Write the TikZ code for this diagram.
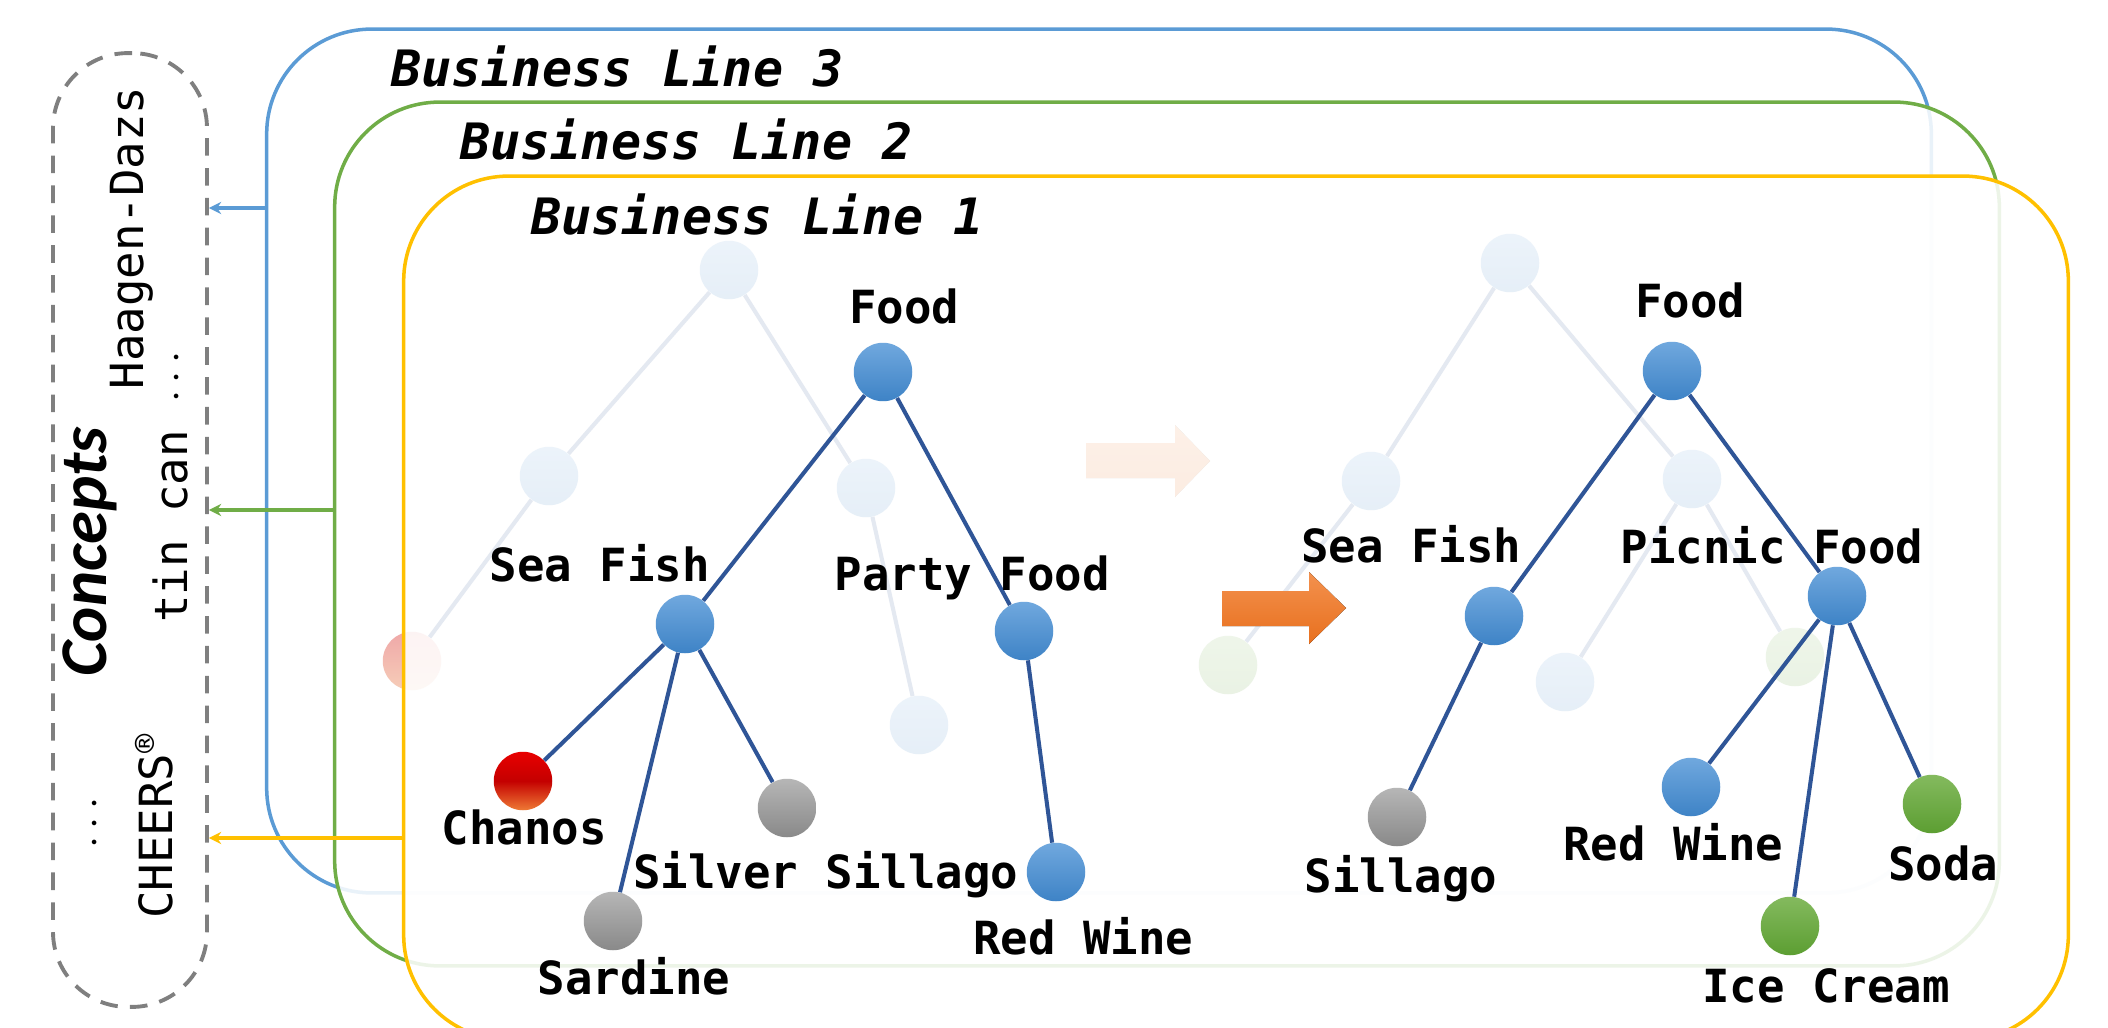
\documentclass[tikz,border=0pt]{standalone}
\usepackage{fontspec}
\setmonofont{DejaVu Sans Mono}[
    BoldFont={DejaVu Sans Mono Bold},
    ItalicFont={DejaVu Sans Mono Oblique},
    BoldItalicFont={DejaVu Sans Mono Bold Oblique}]
\newfontfamily\conceptfont{Carlito}
\usepackage{xcolor}
\usepackage{tikz}
\usetikzlibrary{positioning, arrows.meta, shadings}
\definecolor{lineblue}{HTML}{5B9BD5}
\definecolor{linegreen}{HTML}{70AD47}
\definecolor{lineyellow}{HTML}{FFC000}
\definecolor{linegrey}{HTML}{7F7F7F}
\definecolor{branchblue}{HTML}{2F5597}
\definecolor{dotblueA}{HTML}{70A8DE}
\definecolor{dotblueB}{HTML}{3E83C6}
\definecolor{dotgreyA}{HTML}{B6B6B6}
\definecolor{dotgreyB}{HTML}{898989}
\definecolor{dotredA}{HTML}{E80000}
\definecolor{dotredM}{HTML}{C40000}
\definecolor{dotredB}{HTML}{EE7A35}
\definecolor{dotgreenA}{HTML}{84BA5E}
\definecolor{dotgreenB}{HTML}{5C9E32}
\definecolor{dotpinkA}{HTML}{EFA8A8}
\definecolor{dotpinkB}{HTML}{F6CDB8}
\definecolor{pushA}{HTML}{F3914E}
\definecolor{pushB}{HTML}{E8701E}

\begin{document}
\begin{tikzpicture}[
        x=0.02cm, y=-0.02cm,
        box/.style={
            rectangle,
            draw,
            line width=2pt,
            rounded corners=2.1cm,
            minimum width=33.3cm,
            minimum height=17.28cm,
            inner sep=0pt
        },
        veil/.style={fill=white, fill opacity=0.87},
        boxname/.style={
            font=\ttfamily\bfseries\itshape\fontsize{28.5}{32}\selectfont,
            inner sep=0pt,
            anchor=base west
        },
        term/.style={
            font=\ttfamily\bfseries\fontsize{26}{30}\selectfont,
            inner sep=0pt,
            anchor=base
        },
        concept/.style={
            font=\ttfamily\fontsize{26}{30}\selectfont,
            inner sep=0pt,
            anchor=base,
            rotate=90
        },
        feed/.style={
            -{Stealth[length=7pt, width=7pt]},
            line width=2pt
        },
        dot/.style={circle, inner sep=0pt, minimum size=1.17cm},
        bluedot/.style={dot, top color=dotblueA, bottom color=dotblueB},
        greydot/.style={dot, top color=dotgreyA, bottom color=dotgreyB},
        reddot/.style={dot, top color=dotredA, bottom color=dotredB, middle color=dotredM},
        greendot/.style={dot, top color=dotgreenA, bottom color=dotgreenB},
        pinkdot/.style={dot, top color=dotpinkA, bottom color=dotpinkB},
        branch/.style={draw=branchblue, line width=2.3pt},
        push/.style={top color=pushA, bottom color=pushB}
    ]
    \useasboundingbox (0,0) rectangle (2108,1027);

    % business lines, back to front
    \node[box, draw=lineblue] (bl3) at (1099,461) {};
    \node[box, draw=linegreen, veil] (bl2) at (1167,534) {};

    % older trees, seen through the front box
    \node[bluedot] (oldroot) at (729,270) {};
    \node[bluedot] (oldleft) at (549,476) {};
    \node[bluedot] (oldright) at (866,488) {};
    \node[pinkdot] (oldpink) at (412,661) {};
    \node[bluedot] (oldlow) at (919,725) {};
    \draw[branch] (oldroot) -- (oldleft);
    \draw[branch] (oldroot) -- (oldright);
    \draw[branch] (oldleft) -- (oldpink);
    \draw[branch] (oldright) -- (oldlow);

    \node[bluedot] (newroot) at (1510,263) {};
    \node[bluedot] (newleft) at (1371,481) {};
    \node[bluedot] (newright) at (1692,479) {};
    \node[greendot] (newgreenl) at (1228,665) {};
    \node[bluedot] (newlow) at (1565,682) {};
    \node[greendot] (newgreenr) at (1795,657) {};
    \draw[branch] (newroot) -- (newleft);
    \draw[branch] (newroot) -- (newright);
    \draw[branch] (newleft) -- (newgreenl);
    \draw[branch] (newright) -- (newlow);
    \draw[branch] (newright) -- (newgreenr);

    \fill[push] (1086,443) -- (1175,443) -- (1175,425) -- (1210,461)
        -- (1175,497) -- (1175,478) -- (1086,478) -- cycle;

    \node[box, draw=lineyellow, veil] (bl1) at (1236,608) {};

    \node[boxname] (name3) at (391,87) {Business Line 3};
    \node[boxname] (name2) at (460,160) {Business Line 2};
    \node[boxname] (name1) at (531,235) {Business Line 1};

    % concepts column
    \node[draw=linegrey, line width=2.2pt, dash pattern=on 10pt off 7pt,
        rounded corners=1.5cm, minimum width=3.08cm, minimum height=19.08cm]
        (concepts) at (130,530) {};
    \node[concept, font=\conceptfont\bfseries\itshape\fontsize{38}{42}\selectfont]
        (ctitle) at (106,552) {Concepts};
    \node[concept] (cmoreA) at (105,823) {$\cdots$};
    \node[concept] (haagen) at (143,238) {Haagen-Dazs};
    \node[concept] (tincan) at (187,487) {tin can $\cdots$};
    \node[concept] (cheers) at (172,826) {CHEERS\textsuperscript{®}};

    \coordinate (tap3) at (0,208);
    \coordinate (tap2) at (0,510);
    \coordinate (tap1) at (0,838);
    \draw[feed, lineblue] (bl3.west |- tap3) -- (concepts.east |- tap3);
    \draw[feed, linegreen] (bl2.west |- tap2) -- (concepts.east |- tap2);
    \draw[feed, lineyellow] (bl1.west |- tap1) -- (concepts.east |- tap1);

    % tree before
    \node[bluedot] (food1) at (883,372) {};
    \node[bluedot] (seafish1) at (685,624) {};
    \node[bluedot] (party) at (1024,631) {};
    \node[reddot] (chanos) at (523,781) {};
    \node[greydot] (silver) at (787,808) {};
    \node[greydot] (sardine) at (613,921) {};
    \node[bluedot] (wine1) at (1056,872) {};
    \draw[branch] (food1) -- (seafish1);
    \draw[branch] (food1) -- (party);
    \draw[branch] (seafish1) -- (chanos);
    \draw[branch] (seafish1) -- (sardine);
    \draw[branch] (seafish1) -- (silver);
    \draw[branch] (party) -- (wine1);

    \node[term] (tfood1) at (904,323) {Food};
    \node[term] (tseafish1) at (600,581) {Sea Fish};
    \node[term] (tparty) at (972,590) {Party Food};
    \node[term] (tchanos) at (524,844) {Chanos};
    \node[term] (tsilver) at (826,888) {Silver Sillago};
    \node[term] (tsardine) at (634,994) {Sardine};
    \node[term] (twine1) at (1083,954) {Red Wine};

    \fill[push] (1222,591) -- (1309,591) -- (1309,572) -- (1346,608)
        -- (1309,644) -- (1309,626) -- (1222,626) -- cycle;

    % tree after
    \node[bluedot] (food2) at (1672,371) {};
    \node[bluedot] (seafish2) at (1494,616) {};
    \node[bluedot] (picnic) at (1837,596) {};
    \node[greydot] (sillago) at (1397,817) {};
    \node[bluedot] (wine2) at (1691,787) {};
    \node[greendot] (soda) at (1932,804) {};
    \node[greendot] (icecream) at (1790,926) {};
    \draw[branch] (food2) -- (seafish2);
    \draw[branch] (food2) -- (picnic);
    \draw[branch] (seafish2) -- (sillago);
    \draw[branch] (picnic) -- (wine2);
    \draw[branch] (picnic) -- (icecream);
    \draw[branch] (picnic) -- (soda);

    \node[term] (tfood2) at (1690,317) {Food};
    \node[term] (tseafish2) at (1411,562) {Sea Fish};
    \node[term] (tpicnic) at (1772,563) {Picnic Food};
    \node[term] (tsillago) at (1401,892) {Sillago};
    \node[term] (twine2) at (1673,860) {Red Wine};
    \node[term] (tsoda) at (1943,880) {Soda};
    \node[term] (ticecream) at (1826,1002) {Ice Cream};
\end{tikzpicture}
\end{document}
